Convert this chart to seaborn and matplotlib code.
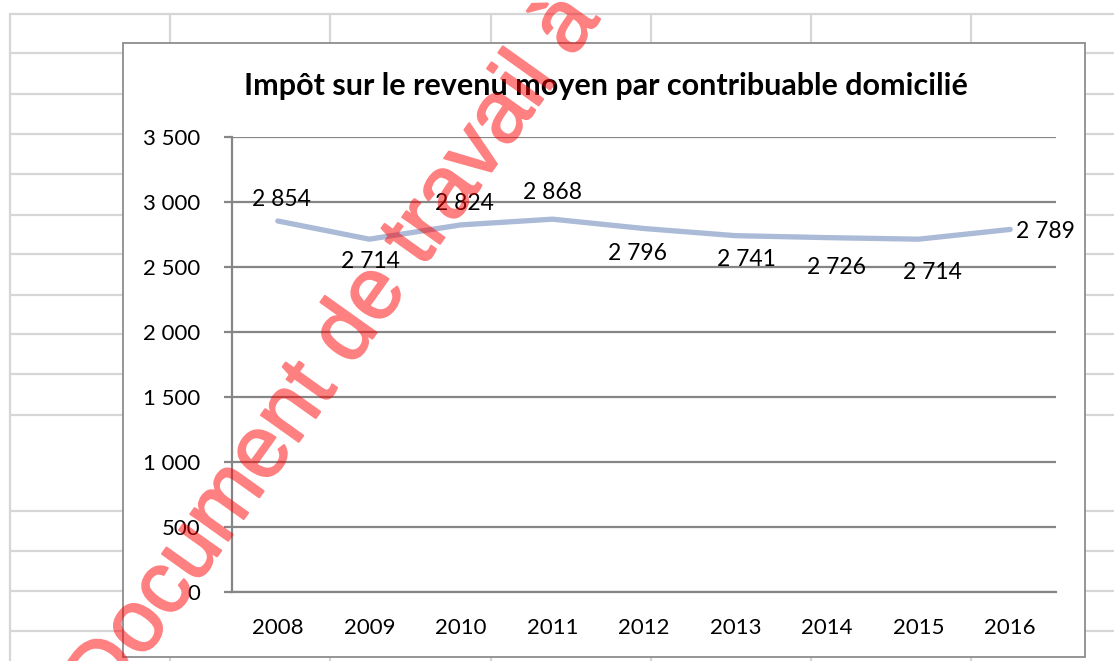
import matplotlib.pyplot as plt
import matplotlib.ticker as mticker
import matplotlib.patheffects as pe
from matplotlib.lines import Line2D
from matplotlib.patches import Rectangle
import pandas as pd
import seaborn as sns

years = ["2008", "2009", "2010", "2011", "2012", "2013", "2014", "2015", "2016"]
impot = [2854, 2714, 2824, 2868, 2796, 2741, 2726, 2714, 2789]
y_ticks = [0, 500, 1000, 1500, 2000, 2500, 3000, 3500]
titre = "Impôt sur le revenu moyen par contribuable domicilié"
filigrane = "Document de travail à usage interne"

# décalage des étiquettes (pixels), comme déplacées à la main dans Excel
label_offsets = [(4, 21), (1, -22), (4, 21), (0, 27), (-7, -25), (11, -24), (9, -30), (14, -33), (6, -2)]

df = pd.DataFrame({"annee": years, "impot": impot})

sns.set_theme(style="white")
plt.rcParams["font.family"] = ["Lato", "DejaVu Sans"]

W, H = 1114, 661
fig = plt.figure(figsize=(W / 100, H / 100), dpi=100)
fig.patch.set_facecolor("white")

def fx(px):
    return px / W

def fy(py):
    return 1 - py / H

# quadrillage de la feuille Excel en fond
grid_col = "#D6D6D6"
rows = [14, 53, 94, 134, 174, 215, 254, 295, 334, 374, 415, 511, 551, 591, 631]
cols = [10, 170, 330, 491, 651, 811, 971]
for r in rows:
    fig.add_artist(Line2D([fx(10), 1], [fy(r), fy(r)], color=grid_col, lw=1.6, zorder=-3))
for c in cols:
    fig.add_artist(Line2D([fx(c), fx(c)], [fy(14), 0], color=grid_col, lw=1.6, zorder=-3))

# cadre du graphique
fig.add_artist(Rectangle((fx(123), fy(657)), fx(1085) - fx(123), fy(43) - fy(657),
                         transform=fig.transFigure, facecolor="white", edgecolor="#8C8C8C",
                         lw=1.3, zorder=-1))

ax = fig.add_axes([fx(232), fy(592), fx(1056) - fx(232), fy(137) - fy(592)])
ax.set_facecolor("none")

sns.lineplot(data=df, x="annee", y="impot", ax=ax, color="#AABAD7", lw=3.8, sort=False)

for i, (v, (dx, dy)) in enumerate(zip(impot, label_offsets)):
    ha = "left" if i == len(impot) - 1 else "center"
    ax.annotate(f"{v:,}".replace(",", " "), (i, v), xytext=(dx, dy), textcoords="offset pixels",
                ha=ha, va="center", fontsize=16.5, color="black")

ax.set_xlim(-0.5, len(years) - 0.5)
ax.set_ylim(0, 3500)
ax.set_yticks(y_ticks)
ax.yaxis.set_major_formatter(mticker.FuncFormatter(lambda v, p: f"{int(v):,}".replace(",", " ")))
ax.yaxis.grid(True, color="#868686", lw=1.6)
ax.set_axisbelow(True)

ax.set_xticks(range(len(years)))
ax.set_xticklabels(years)
ax.set_xticks([i - 0.5 for i in range(len(years) + 1)], minor=True)
ax.tick_params(axis="x", which="major", length=0, pad=19, labelsize=16, labelcolor="black")
ax.tick_params(axis="x", which="minor", length=5, width=1.5, color="#868686", direction="out")
ax.tick_params(axis="y", which="major", length=6, width=1.6, color="#868686", pad=17,
               labelsize=16, labelcolor="black", left=True)
ax.set_xlabel("")
ax.set_ylabel("")

for side in ["top", "right"]:
    ax.spines[side].set_visible(False)
for side in ["left", "bottom"]:
    ax.spines[side].set_color("#868686")
    ax.spines[side].set_linewidth(1.6)

fig.text(fx(606), fy(86), titre, ha="center", va="center", fontsize=22, fontweight="bold", color="black")


# filigrane rouge par-dessus : tracé opaque puis transparence appliquée à l'ensemble
def half_alpha(img, dpi):
    img = img.copy()
    img[..., 3] *= 0.5
    return img, 0, 0


wm = fig.text(fx(106), fy(712), filigrane, rotation=54.5, rotation_mode="anchor", ha="left", va="baseline",
              fontsize=63, color="red", zorder=10, family=["Liberation Sans", "DejaVu Sans"],
              path_effects=[pe.withStroke(linewidth=1.5, foreground="red")])
wm.set_agg_filter(half_alpha)

fig.savefig("out.png", dpi=100)
